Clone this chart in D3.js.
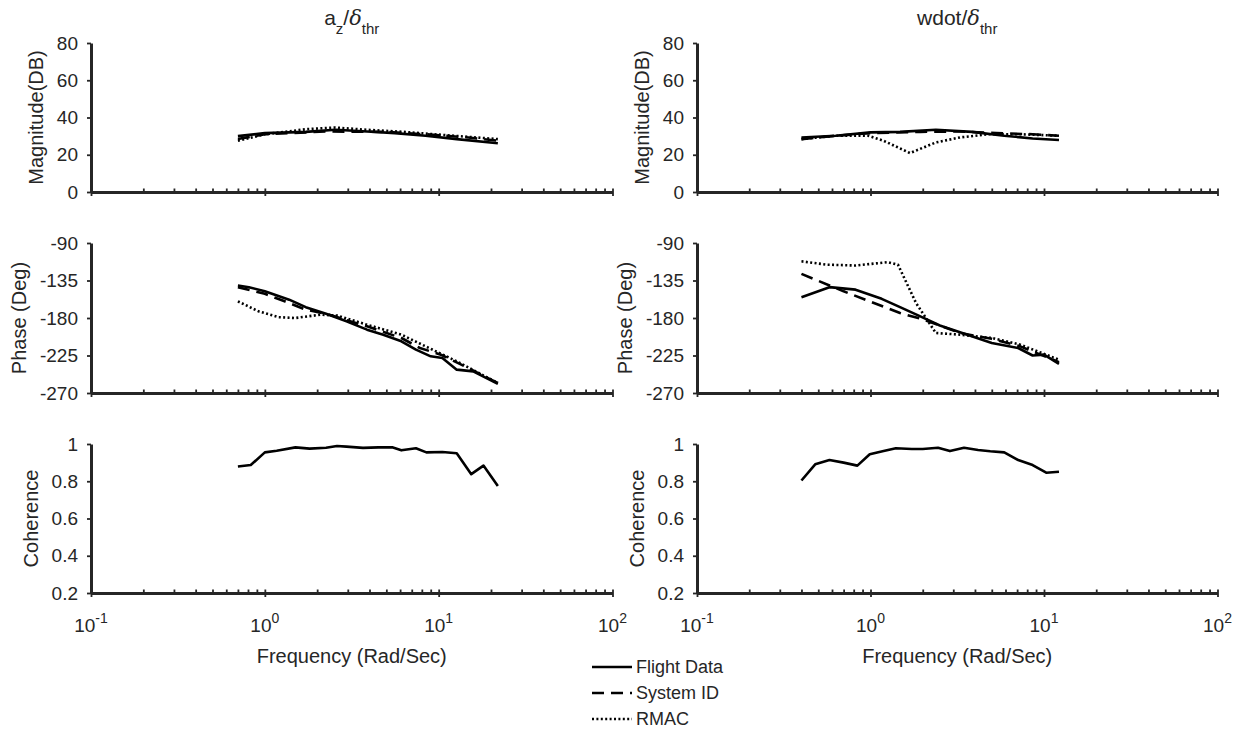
<!DOCTYPE html>
<html>
<head>
<meta charset="utf-8">
<script src="https://cdn.jsdelivr.net/npm/d3@7"></script>
<style>
  body { margin: 0; background: #fff; }
  svg { display: block; font-family: 'Liberation Sans', Arial, sans-serif; }
  .domain { stroke: #262626; stroke-width: 3; }
  .tick line { stroke: #262626; stroke-width: 1.8; }
  .tick text { fill: #262626; font-size: 19px; }
</style>
</head>
<body>
<div id="chart"></div>
<script>
// ---- data ----
const xTickExps = [-1, 0, 1, 2]
const magTicks = [0, 20, 40, 60, 80]
const phaseTicks = [-270, -225, -180, -135, -90]
const cohTicks = [0.2, 0.4, 0.6, 0.8, 1]

// a_z / delta_thr
const azMagFlightF = [0.70, 1.0, 1.72, 2.55, 3.87, 5.6, 8.4, 12.7, 21.9]
const azMagFlight = [30, 31.6, 32.3, 33.4, 32.5, 31.6, 30.2, 28.4, 26.2]
const azMagSysF = [0.70, 1.0, 2.25, 4.9, 8.4, 14.8, 21.9]
const azMagSys = [28.5, 31, 32.5, 32.3, 31, 29.3, 27.5]
const azMagRmacF = [0.70, 1.0, 1.72, 2.55, 3.87, 6.3, 11, 21.9]
const azMagRmac = [27.5, 31, 33.7, 34.6, 33.4, 32.3, 30.5, 28.4]

const azPhFlightF = [0.70, 0.81, 1.0, 1.38, 1.72, 2.25, 2.95, 3.87, 4.8, 6.1, 7.4, 9.0, 10.5, 12.7, 15.8, 21.9]
const azPhFlight = [-141, -143, -148, -158, -167, -175, -184, -194, -200, -208, -218, -226, -228, -242, -244, -259]
const azPhSysF = [0.70, 1.0, 1.3, 1.72, 2.25, 3.87, 6.1, 7.8, 10.3, 13.5, 21.9]
const azPhSys = [-143, -151, -160, -170, -175, -190, -204, -216, -224, -236, -258]
const azPhRmacF = [0.70, 0.92, 1.2, 1.5, 2.1, 2.6, 3.87, 6.1, 8.8, 12.7, 21.9]
const azPhRmac = [-160, -172, -179, -180, -176, -177, -188, -200, -216, -232, -258]

const azCohF = [0.70, 0.83, 1.0, 1.17, 1.5, 1.81, 2.25, 2.6, 2.95, 3.67, 4.5, 5.4, 6.1, 7.4, 8.5, 10.5, 12.7, 15.4, 18.1, 21.9]
const azCoh = [0.879, 0.887, 0.955, 0.964, 0.982, 0.975, 0.98, 0.989, 0.986, 0.979, 0.982, 0.982, 0.966, 0.977, 0.955, 0.957, 0.95, 0.838, 0.884, 0.775]

// wdot / delta_thr
const wdMagFlightF = [0.40, 0.63, 1.0, 1.48, 2.38, 3.85, 5.9, 8.6, 12.2]
const wdMagFlight = [29.3, 30.2, 32, 32.3, 33.4, 32.3, 30.2, 28.75, 27.9]
const wdMagSysF = [0.40, 0.63, 1.0, 1.93, 3.28, 5.3, 8.6, 12.2]
const wdMagSys = [28.4, 30.2, 31.6, 32.3, 32.5, 31.6, 31, 30.2]
const wdMagRmacF = [0.40, 0.63, 0.97, 1.19, 1.69, 2.38, 3.28, 4.76, 7.3, 12.2]
const wdMagRmac = [28.4, 30.2, 30.2, 27.5, 20.9, 26.6, 29.3, 31, 31, 30.2]

const wdPhFlightF = [0.40, 0.58, 0.82, 1.16, 1.48, 1.98, 2.51, 3.28, 5.0, 7.1, 8.6, 10.0, 12.2]
const wdPhFlight = [-155, -143, -146, -157, -167, -179, -189, -197, -210, -216, -225, -224, -235]
const wdPhSysF = [0.40, 0.70, 1.48, 2.03, 3.28, 5.0, 7.3, 12.2]
const wdPhSys = [-127, -148, -174, -182, -198, -205, -214, -233]
const wdPhRmacF = [0.40, 0.56, 0.82, 1.26, 1.44, 1.83, 2.38, 3.28, 5.0, 7.3, 12.2]
const wdPhRmac = [-112, -116, -117, -113, -116, -162, -198, -200, -204, -212, -230]

const wdCohF = [0.40, 0.48, 0.58, 0.70, 0.84, 0.99, 1.19, 1.40, 1.73, 2.0, 2.45, 2.87, 3.46, 4.17, 4.9, 5.9, 7.1, 8.6, 10.3, 12.2]
const wdCoh = [0.804, 0.891, 0.914, 0.9, 0.884, 0.945, 0.962, 0.977, 0.973, 0.973, 0.98, 0.962, 0.98, 0.968, 0.961, 0.955, 0.914, 0.887, 0.846, 0.851]

const legendNames = ['Flight Data', 'System ID', 'RMAC']
const dashes = [null, '12,7', '2,2.4']

// ---- layout ----
const W = 1244, H = 730
const ink = '#262626'
const svg = d3.select('#chart').append('svg').attr('width', W).attr('height', H)

const cols = [
  { x0: 91, x1: 612.5, title: ['a', 'z'] },
  { x0: 697, x1: 1217.5, title: ['wdot', null] }
]
const rows = [
  { y0: 192, y1: 43, domain: [0, 80], ticks: magTicks, label: 'Magnitude(DB)' },
  { y0: 393, y1: 243, domain: [-270, -90], ticks: phaseTicks, label: 'Phase (Deg)' },
  { y0: 593, y1: 444, domain: [0.2, 1], ticks: cohTicks, label: 'Coherence' }
]

const series = [
  [
    [[azMagFlightF, azMagFlight], [azMagSysF, azMagSys], [azMagRmacF, azMagRmac]],
    [[azPhFlightF, azPhFlight], [azPhSysF, azPhSys], [azPhRmacF, azPhRmac]],
    [[azCohF, azCoh]]
  ],
  [
    [[wdMagFlightF, wdMagFlight], [wdMagSysF, wdMagSys], [wdMagRmacF, wdMagRmac]],
    [[wdPhFlightF, wdPhFlight], [wdPhSysF, wdPhSys], [wdPhRmacF, wdPhRmac]],
    [[wdCohF, wdCoh]]
  ]
]

const majors = xTickExps.map(e => Math.pow(10, e))
const minors = []
for (let e = -1; e < 2; e++) for (let k = 2; k < 10; k++) minors.push(k * Math.pow(10, e))

cols.forEach((c, ci) => {
  const x = d3.scaleLog().domain([0.1, 100]).range([c.x0, c.x1])

  rows.forEach((r, ri) => {
    const y = d3.scaleLinear().domain(r.domain).range([r.y0, r.y1])
    const g = svg.append('g')

    // x axis: small inward ticks everywhere, outward ticks on decades
    g.append('g')
      .attr('transform', `translate(0,${r.y0})`)
      .call(d3.axisBottom(x).tickValues(majors.concat(minors)).tickSize(-3.5).tickSizeOuter(0).tickFormat(''))
    g.append('g')
      .attr('transform', `translate(0,${r.y0})`)
      .call(d3.axisBottom(x).tickValues(majors).tickSize(4).tickSizeOuter(0).tickFormat(''))
      .select('.domain').remove()

    // y axis
    const ya = g.append('g')
      .attr('transform', `translate(${c.x0},0)`)
      .call(d3.axisLeft(y).tickValues(r.ticks).tickSize(4).tickSizeOuter(0).tickPadding(9)
        .tickFormat(d => String(d)))

    let minX = Infinity
    ya.selectAll('.tick text').each(function () {
      minX = Math.min(minX, this.getBBox().x)
    })

    g.append('text')
      .attr('transform', `translate(${c.x0 + minX - 14},${(r.y0 + r.y1) / 2}) rotate(-90)`)
      .attr('text-anchor', 'middle')
      .attr('fill', ink)
      .style('font-size', '20px')
      .text(r.label)

    // curves
    const line = d3.line().x(d => x(d[0])).y(d => y(d[1]))
    series[ci][ri].forEach((s, si) => {
      const pts = s[0].map((f, i) => [f, s[1][i]])
      g.append('path')
        .datum(pts)
        .attr('d', line)
        .attr('fill', 'none')
        .attr('stroke', '#000')
        .attr('stroke-width', 2.6)
        .attr('stroke-linejoin', 'round')
        .attr('stroke-dasharray', dashes[si])
    })

    // x tick labels on bottom row
    if (ri === rows.length - 1) {
      xTickExps.forEach(e => {
        const t = g.append('text')
          .attr('x', x(Math.pow(10, e)))
          .attr('y', 632)
          .attr('text-anchor', 'middle')
          .attr('fill', ink)
          .style('font-size', '19px')
        t.append('tspan').text('10')
        t.append('tspan').attr('dy', -9).style('font-size', '14px').text(String(e))
      })
      g.append('text')
        .attr('x', (c.x0 + c.x1) / 2)
        .attr('y', 663)
        .attr('text-anchor', 'middle')
        .attr('fill', ink)
        .style('font-size', '20px')
        .text('Frequency (Rad/Sec)')
    }
  })

  // title
  const tt = svg.append('text')
    .attr('x', (c.x0 + c.x1) / 2)
    .attr('y', 25)
    .attr('text-anchor', 'middle')
    .attr('fill', ink)
    .style('font-size', '21px')
  tt.append('tspan').text(c.title[0])
  if (c.title[1]) tt.append('tspan').attr('dy', 9).style('font-size', '15px').text(c.title[1])
  tt.append('tspan').attr('dy', c.title[1] ? -9 : 0).text('/')
  tt.append('tspan').style('font-style', 'italic').style('font-family', "'DejaVu Serif', serif").text('δ')
  tt.append('tspan').attr('dy', 9).style('font-size', '15px').text('thr')
})

// legend
const leg = svg.append('g')
legendNames.forEach((name, i) => {
  const yy = 667 + i * 26
  leg.append('line')
    .attr('x1', 592).attr('x2', 632).attr('y1', yy).attr('y2', yy)
    .attr('stroke', '#000').attr('stroke-width', 2.6)
    .attr('stroke-dasharray', dashes[i])
  leg.append('text')
    .attr('x', 636).attr('y', yy + 6)
    .attr('fill', ink)
    .style('font-size', '18px')
    .text(name)
})
</script>
</body>
</html>
